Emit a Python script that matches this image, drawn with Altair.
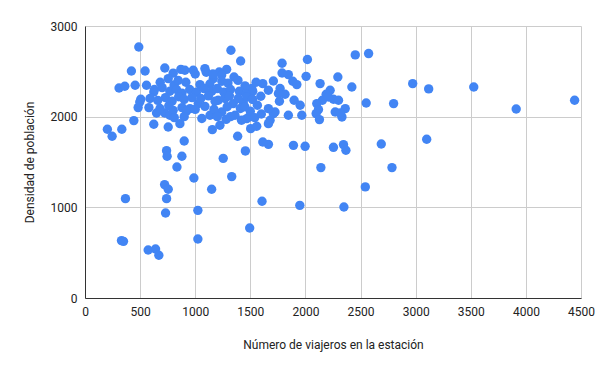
import altair as alt
import pandas as pd

viajeros = [
    488, 421, 545, 309, 361, 455, 558, 624, 506, 482, 443, 203, 334, 246, 624, 755, 861, 900,
    740, 745, 879, 834, 1254, 1455, 2140, 988, 1331, 722, 755, 367, 740, 1149, 1606, 1949,
    731, 1024, 1494, 331, 349, 1024, 573, 640, 670, 2785, 2543, 2349, 2345, 2367, 2254, 1997,
    1891, 1664, 1613, 1385, 1503, 1558, 1324, 1412, 1788, 2018, 2452, 2573, 1788, 1845, 1709,
    1613, 2006, 1885, 1922, 2133, 2294, 2421, 2551, 1664, 1770, 1815, 1764, 1522, 1595, 1564,
    1897, 1952, 2224, 2188, 2154, 2103, 2254, 2300, 2118, 2097, 2127, 2270, 2331, 2361, 1845,
    1967, 1724, 1679, 1491, 2973, 3118, 3527, 3912, 4442, 2800, 2688, 3100, 724, 870, 1088,
    982, 906, 1285, 1218, 1352, 1513, 1043, 1164, 1709, 1664, 1664, 2209, 2315, 1755, 952,
    1027, 1134, 1240, 1224, 1155, 1467, 1361, 1345, 1436, 1088, 1209, 497, 649, 724, 770,
    800, 1000, 1100, 1160, 1240,
    682, 755, 808, 845, 915, 1133, 1242, 1297, 1388, 1452, 1552,
    630, 700, 770, 830, 880, 950, 1010, 1080, 1150, 1200, 1260, 1320, 1400, 1460,
    590, 660, 730, 790, 850, 900, 970, 1050, 1120, 1180, 1270, 1310, 1390, 1470, 1520,
    580, 680, 760, 800, 880, 920, 1000, 1170, 1290, 1410, 1500, 1450,
    810, 900, 1060, 1200, 1280, 1320, 1420, 1540, 1600,
]
densidad = [
    2768, 2504, 2504, 2316, 2335, 2346, 2346, 2272, 2192, 2100, 1957, 1861, 1861, 1784, 1916, 1886, 1923, 1732,
    1625, 1563, 1563, 1445, 1540, 1622, 1438, 1324, 1339, 1251, 1199, 1096, 1096, 1199, 1067, 1022,
    938, 967, 772, 633, 625, 651, 530, 541, 471, 1438, 1225, 1004, 1692, 1629, 1662, 1673,
    1684, 1695, 1721, 1784, 1868, 1894, 2732, 2614, 2589, 2630, 2681, 2696, 2482, 2464, 2394,
    2365, 2445, 2390, 2354, 2365, 2438, 2327, 2151, 2291, 2310, 2247, 2170, 2280, 2225, 2126,
    2181, 2126, 2291, 2247, 2181, 2144, 2192, 2181, 2078, 2034, 1968, 2052, 1997, 2089, 2015,
    2015, 2052, 1960, 1997, 2365, 2306, 2327, 2085, 2181, 2144, 1699, 1751, 2537, 2522, 2530,
    2512, 2512, 2522, 2493, 2438, 2310, 2354, 2420, 2034, 1923, 2089, 2217, 2041, 2255, 2089,
    2144, 2015, 2052, 1905, 1857, 1979, 2015, 2144, 2162, 2114, 2181, 2162, 2041, 2041, 2015,
    2480, 2470, 2490, 2470, 2460,
    2380, 2420, 2350, 2400, 2380, 2360, 2390, 2370, 2400, 2340, 2380,
    2300, 2320, 2280, 2300, 2260, 2300, 2270, 2310, 2280, 2310, 2270, 2300, 2280, 2250,
    2200, 2180, 2210, 2170, 2220, 2190, 2210, 2200, 2230, 2170, 2200, 2230, 2200, 2220, 2190,
    2100, 2090, 2120, 2070, 2100, 2060, 2080, 2080, 2110, 2090, 2060, 2110,
    1990, 2000, 1980, 2000, 1970, 2000, 1960, 1990, 2030,
]

df = pd.DataFrame({"viajeros": viajeros, "densidad": densidad})

chart = alt.Chart(df).mark_circle(size=88, opacity=1, color="#4285F4").encode(
    x=alt.X("viajeros:Q", title="Número de viajeros en la estación",
            scale=alt.Scale(domain=[0, 4500], nice=False),
            axis=alt.Axis(values=list(range(0, 4501, 500)), format="d", labelFlush=False)),
    y=alt.Y("densidad:Q", title="Densidad de población",
            scale=alt.Scale(domain=[0, 3000], nice=False),
            axis=alt.Axis(values=[0, 1000, 2000, 3000], format="d")),
).properties(
    width=496, height=272,
    autosize=alt.AutoSizeParams(type="none"),
    padding={"left": 85, "top": 26, "right": 19, "bottom": 73},
).configure_view(stroke=None).configure_axis(
    labelFont="Roboto", titleFont="Roboto", labelFontSize=12, titleFontSize=12,
    labelColor="#222222", titleColor="#222222", titleFontWeight="normal",
    gridColor="#cccccc", domainColor="#333333", ticks=False, labelPadding=8,
).configure_axisX(
    grid=True, domain=True, titlePadding=22,
).configure_axisY(
    grid=True, domain=True, titlePadding=14,
)

chart.save("out.html", embed_options={"renderer": "svg", "actions": False})
